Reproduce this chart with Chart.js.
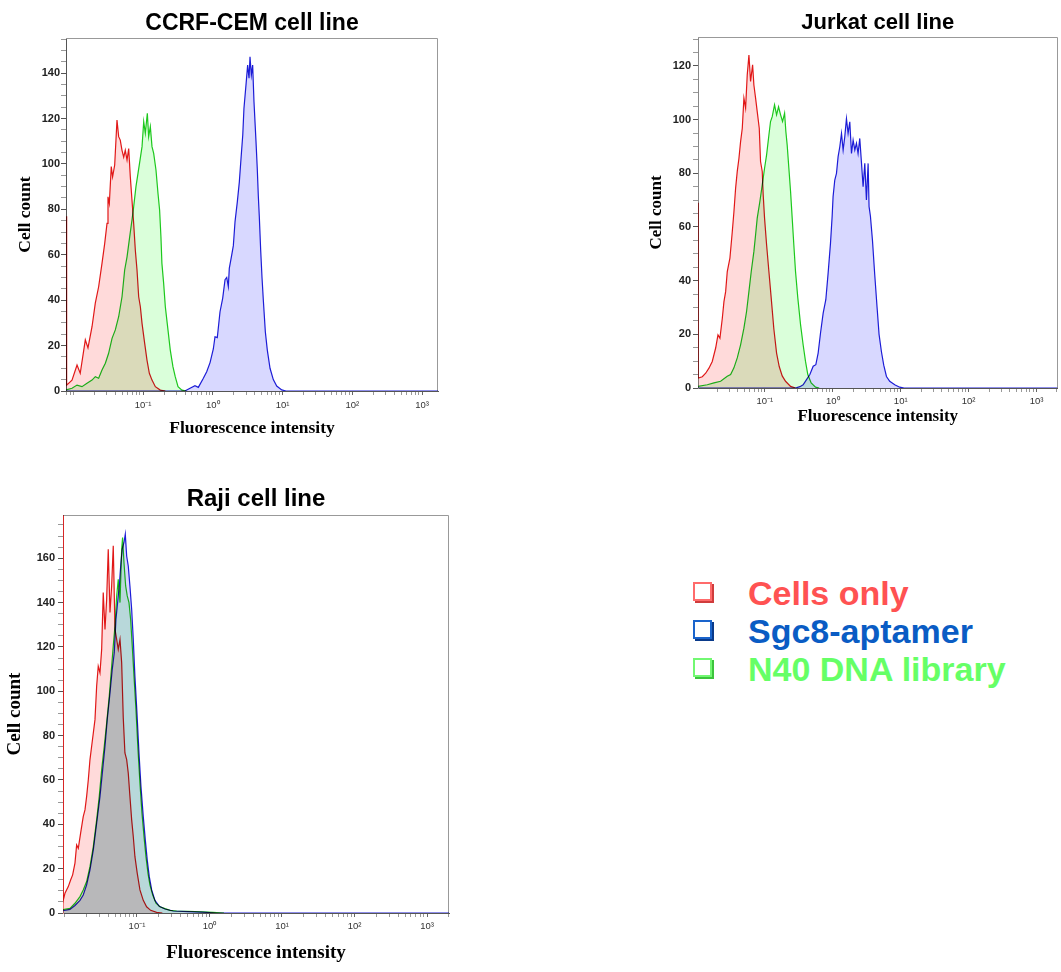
<!DOCTYPE html>
<html><head><meta charset="utf-8">
<script src="https://cdn.jsdelivr.net/npm/chart.js@4.4.1/dist/chart.umd.min.js"></script>
<style>
html,body{margin:0;padding:0;background:#fff;width:1061px;height:972px;overflow:hidden;position:relative}
canvas{position:absolute}
#c1{left:0;top:0}
#c2{left:630px;top:0}
#c3{left:0;top:470px}
.leg{position:absolute;left:748px;font:bold 34px "Liberation Sans",Arial,sans-serif;line-height:34px;white-space:nowrap}
.sq{position:absolute;left:693px;width:15px;height:15px;border:2px solid}
</style></head><body>
<canvas id="c1" width="460" height="450"></canvas>
<canvas id="c2" width="431" height="430"></canvas>
<canvas id="c3" width="460" height="500"></canvas>

<div class="sq" style="top:582px;border-color:#ff6b6b;box-shadow:2px 2px 0 #d03c3c"></div>
<div class="leg" style="top:576px;color:#ff5252">Cells only</div>
<div class="sq" style="top:620px;border-color:#1a64cc;box-shadow:2px 2px 0 #0a3a8a"></div>
<div class="leg" style="top:614px;color:#0a5cc4">Sgc8-aptamer</div>
<div class="sq" style="top:658px;border-color:#72f872;box-shadow:2px 2px 0 #3cc43c"></div>
<div class="leg" style="top:652px;color:#66ff66">N40 DNA library</div>

<script>
// ---------- tick labels ----------
const xTickExps = [-1, 0, 1, 2, 3];
const xTickLabels = ['10\u207B\u00B9', '10\u2070', '10\u00B9', '10\u00B2', '10\u00B3'];
const yLabelStep = 20;
const yMinorStep = 5;
const seriesNames = ['Cells only', 'Sgc8-aptamer', 'N40 DNA library'];

// ---------- CCRF-CEM (x as log10 intensity, y as cell count) ----------
const cemXRange = [-2.104, 3.229];
const cemYMax = 155.4;
const cemCells = [[-2.104,77],[-2.100,3],[-2.09,2.6],[-2.018,4.8],[-1.946,11.4],[-1.90,7.8],[-1.827,22.5],[-1.789,19],[-1.731,28.3],[-1.684,38.7],[-1.636,45.9],[-1.588,56.2],[-1.549,65],[-1.516,73.8],[-1.502,85.5],[-1.483,82.6],[-1.455,98.8],[-1.436,94.3],[-1.406,99.5],[-1.373,119.3],[-1.349,112],[-1.326,110.5],[-1.301,106],[-1.277,103],[-1.254,106],[-1.229,101.7],[-1.205,106.8],[-1.182,94.3],[-1.158,84],[-1.134,73.8],[-1.110,62],[-1.086,53.3],[-1.062,41.5],[-1.038,37.1],[-1.014,29.8],[-0.976,21],[-0.943,13.6],[-0.909,7.8],[-0.871,4.8],[-0.823,1.9],[-0.752,0.4],[-0.68,0]];
const cemLibrary = [[-2.104,0.5],[-2.018,1.2],[-1.946,2.6],[-1.875,1.9],[-1.803,3.4],[-1.731,4.8],[-1.684,6.3],[-1.636,5.6],[-1.588,9.2],[-1.540,12.2],[-1.493,16.6],[-1.444,23.2],[-1.397,26.9],[-1.349,32.7],[-1.301,41.5],[-1.263,53.3],[-1.229,59.1],[-1.191,67.9],[-1.158,75.3],[-1.134,81.1],[-1.101,90],[-1.072,95.8],[-1.043,101.7],[-1.014,107.6],[-0.990,118.6],[-0.967,113.5],[-0.938,122.3],[-0.919,112],[-0.895,116.4],[-0.871,107.6],[-0.847,104.6],[-0.814,97.3],[-0.785,87],[-0.762,79.7],[-0.743,67.9],[-0.729,56.2],[-0.704,47.4],[-0.680,37.1],[-0.642,26.9],[-0.609,18],[-0.571,10.7],[-0.538,6.3],[-0.498,1.9],[-0.442,0.4],[-0.38,0]];
const cemAptamer = [[-2.104,0],[-0.40,0],[-0.326,1.2],[-0.255,2.3],[-0.207,1.6],[-0.135,5.6],[-0.087,8.5],[-0.039,12.5],[0.008,18.5],[0.032,23.9],[0.065,23.5],[0.104,34.9],[0.142,40.8],[0.176,49],[0.2,50],[0.223,46],[0.237,54],[0.272,59.9],[0.295,64],[0.319,74.5],[0.352,83.3],[0.381,92.1],[0.405,102.4],[0.430,112.7],[0.447,124.4],[0.476,134.7],[0.5,143.5],[0.52,137.7],[0.534,147.2],[0.553,139.1],[0.572,143.5],[0.591,127.4],[0.620,109.8],[0.638,98],[0.653,86],[0.667,77],[0.687,62],[0.706,50],[0.725,40],[0.754,26],[0.782,18],[0.821,10],[0.868,5],[0.917,2.2],[0.989,0.5],[1.05,0],[3.229,0]];

// ---------- Jurkat ----------
const jurXRange = [-1.985, 3.309];
const jurYMax = 130.8;
const jurCells = [[-1.985,69],[-1.981,3.7],[-1.922,4.2],[-1.872,5.5],[-1.824,7.4],[-1.775,9.9],[-1.725,14.9],[-1.691,19.8],[-1.662,18.6],[-1.627,26],[-1.603,32.2],[-1.578,35.9],[-1.554,43.4],[-1.515,48.4],[-1.480,58.3],[-1.456,65.7],[-1.431,74.5],[-1.407,80.7],[-1.382,85.6],[-1.358,91.8],[-1.333,96.8],[-1.309,108],[-1.284,104.3],[-1.260,116.7],[-1.235,124.1],[-1.211,114.2],[-1.181,120.4],[-1.162,112.9],[-1.137,108],[-1.113,103],[-1.083,96.8],[-1.064,84.4],[-1.039,80.7],[-1.025,72],[-1.005,63.3],[-0.975,53.4],[-0.941,43.4],[-0.907,33.5],[-0.868,22],[-0.828,13],[-0.789,8],[-0.745,4.5],[-0.696,2.5],[-0.622,0.6],[-0.549,0]];
const jurLibrary = [[-1.985,0.6],[-1.848,1.2],[-1.75,1.9],[-1.652,2.5],[-1.554,4.4],[-1.505,5],[-1.456,7.5],[-1.407,11.2],[-1.358,16.1],[-1.309,22.3],[-1.270,28.5],[-1.235,36],[-1.201,43.4],[-1.162,50.9],[-1.137,57.1],[-1.113,63.3],[-1.074,69.5],[-1.039,75.7],[-1.005,81.9],[-0.975,86.9],[-0.941,94.3],[-0.917,99.3],[-0.892,101.1],[-0.858,105.5],[-0.828,101.8],[-0.799,104.8],[-0.769,101.8],[-0.740,99.3],[-0.710,102.4],[-0.691,95.5],[-0.672,90.6],[-0.647,81.9],[-0.622,73.2],[-0.598,63.3],[-0.574,53.4],[-0.549,43.4],[-0.515,33.5],[-0.475,23.6],[-0.437,16.1],[-0.402,9.9],[-0.368,5],[-0.319,1.9],[-0.254,0.3],[-0.2,0]];
const jurAptamer = [[-1.985,0],[-0.55,0],[-0.485,0.5],[-0.437,1.2],[-0.387,3.1],[-0.338,5],[-0.289,8.1],[-0.25,8.7],[-0.216,13],[-0.181,20.5],[-0.142,27.9],[-0.103,32.9],[-0.069,42.8],[-0.034,54],[-0.010,63.9],[0.004,71.3],[0.029,77.5],[0.054,80],[0.078,86.2],[0.103,89.9],[0.128,94.9],[0.152,88.7],[0.176,93.6],[0.201,100.4],[0.225,94.9],[0.25,99.2],[0.275,87.4],[0.299,92.4],[0.324,88.7],[0.348,91.2],[0.372,87.4],[0.397,93],[0.426,82.5],[0.446,75],[0.471,83.7],[0.495,70.1],[0.520,83.7],[0.534,67.6],[0.554,64],[0.584,55],[0.618,42],[0.652,30],[0.681,20],[0.716,13.5],[0.75,8.5],[0.790,4.3],[0.838,2.5],[0.912,1.2],[0.985,0.3],[1.05,0],[3.309,0]];

// ---------- Raji ----------
const rajiXRange = [-2.02, 3.303];
const rajiYMax = 179.5;
const rajiCells = [[-2.02,185],[-2.017,5.7],[-1.993,8.9],[-1.947,11.9],[-1.915,14.9],[-1.887,17.2],[-1.855,22.5],[-1.832,30.7],[-1.809,29.2],[-1.777,36],[-1.741,43.5],[-1.717,46.5],[-1.694,52.6],[-1.671,60.1],[-1.648,69.2],[-1.625,75.2],[-1.602,81.2],[-1.579,87.2],[-1.556,102.3],[-1.534,111.3],[-1.510,108.3],[-1.487,118.9],[-1.465,144.5],[-1.441,127.9],[-1.418,141.5],[-1.396,164.1],[-1.372,135.5],[-1.349,147.5],[-1.327,165.6],[-1.303,127.9],[-1.280,123.4],[-1.258,118.9],[-1.234,123.4],[-1.211,112.9],[-1.189,88],[-1.166,72.2],[-1.142,69.2],[-1.12,63.1],[-1.097,52.6],[-1.073,42],[-1.051,34.5],[-1.028,25.4],[-0.996,17.9],[-0.959,10.4],[-0.913,5.7],[-0.867,2.8],[-0.811,1.2],[-0.729,0.3],[-0.65,0]];
const rajiLibrary = [[-2.02,1.5],[-1.924,2.1],[-1.855,4.4],[-1.786,7.4],[-1.741,10.4],[-1.694,14.2],[-1.648,20.9],[-1.602,30],[-1.556,42],[-1.520,52.6],[-1.487,64.6],[-1.451,75.2],[-1.418,85.7],[-1.382,97.8],[-1.349,111.3],[-1.327,120.4],[-1.303,129.4],[-1.280,143],[-1.258,150.5],[-1.234,140],[-1.211,164.1],[-1.198,169.3],[-1.179,158],[-1.156,147.5],[-1.134,143],[-1.110,140],[-1.087,132.4],[-1.065,120.4],[-1.041,106.8],[-1.014,91.8],[-0.986,73.7],[-0.959,58.6],[-0.931,45],[-0.903,34.5],[-0.876,25.4],[-0.848,17.9],[-0.821,12.7],[-0.783,8.1],[-0.738,4.4],[-0.683,2.8],[-0.614,2],[-0.545,1.2],[-0.452,0.9],[-0.3,0.8],[-0.1,0.5],[0.05,0.3],[0.2,0]];
const rajiAptamer = [[-2.02,1],[-1.924,1.6],[-1.855,3.4],[-1.786,5.7],[-1.741,8.1],[-1.694,12.7],[-1.648,19.4],[-1.602,28.5],[-1.556,40.5],[-1.510,52.6],[-1.473,64.6],[-1.441,75.2],[-1.410,87.2],[-1.372,99.3],[-1.341,109.8],[-1.313,117.4],[-1.290,132.4],[-1.267,140],[-1.244,147.5],[-1.221,158],[-1.203,164.1],[-1.179,167.1],[-1.161,170.8],[-1.142,161],[-1.12,156.5],[-1.097,147.5],[-1.073,136.9],[-1.051,123.4],[-1.028,106.8],[-1.0,90.3],[-0.972,72.2],[-0.945,57.1],[-0.913,43.5],[-0.885,33],[-0.858,23.9],[-0.830,16.4],[-0.797,10.4],[-0.752,5.7],[-0.692,3],[-0.614,1.8],[-0.50,0.9],[-0.3,0.6],[-0.1,0.4],[0.1,0],[3.303,0]];

// ---------- styling ----------
const lineColors = ['rgb(225,25,25)', 'rgb(30,30,215)', 'rgb(30,200,30)'];
const fillColors = ['rgb(255,218,218)', 'rgb(216,216,255)', 'rgb(218,255,218)'];
const drawOrder = [3, 1, 2];

const blendPlugin = {
  id: 'blend',
  beforeDraw(chart) {
    const c = chart.ctx;
    c.save(); c.fillStyle = '#fff'; c.fillRect(0, 0, chart.width, chart.height); c.restore();
  },
  beforeDatasetsDraw(chart) {
    const c = chart.ctx, a = chart.chartArea;
    const l = Math.round(a.left), t = Math.round(a.top) + 0.5, r = Math.round(a.right) - 0.5, b = Math.round(a.bottom);
    c.save();
    c.strokeStyle = '#999'; c.lineWidth = 1;
    c.beginPath(); c.moveTo(l, t); c.lineTo(r, t); c.lineTo(r, b); c.stroke();
    c.restore();
    c.save();
    c.globalCompositeOperation = 'multiply';
  },
  afterDatasetsDraw(chart) { chart.ctx.restore(); }
};

function toXY(arr) { return arr.map(p => ({x: Math.pow(10, p[0]), y: p[1]})); }

function makeChart(id, o) {
  const series = [o.cells, o.aptamer, o.library];
  const datasets = series.map((s, i) => ({
    label: seriesNames[i],
    data: toXY(s),
    borderColor: lineColors[i],
    backgroundColor: fillColors[i],
    borderWidth: 1.2,
    pointRadius: 0,
    tension: 0,
    fill: 'origin',
    order: drawOrder[i]
  }));
  new Chart(document.getElementById(id), {
    type: 'line',
    data: {datasets},
    plugins: [blendPlugin],
    options: {
      responsive: false,
      animation: false,
      devicePixelRatio: 1,
      layout: {padding: {left: 0, right: o.padRight, top: 0, bottom: 0}},
      plugins: {
        legend: {display: false},
        tooltip: {enabled: false},
        title: {
          display: true, text: o.title, fullSize: false, color: '#000',
          font: {family: 'Liberation Sans', size: o.titleSize, weight: 'bold'},
          padding: {top: o.titlePadTop, bottom: o.titlePadBottom}
        }
      },
      scales: {
        x: {
          type: 'logarithmic',
          min: Math.pow(10, o.xRange[0]),
          max: Math.pow(10, o.xRange[1]),
          afterFit(scale) { scale.height = o.xAxisHeight; },
          afterBuildTicks(scale) {
            const t = [];
            for (let n = -3; n <= 4; n++) for (let k = 1; k <= 9; k++) {
              const v = k * Math.pow(10, n);
              if (v >= scale.min && v <= scale.max) t.push({value: v});
            }
            scale.ticks = t;
          },
          ticks: {
            autoSkip: false, maxRotation: 0, minRotation: 0, padding: o.xTickPad,
            color: '#333', font: {family: 'Liberation Sans', size: 9.5},
            callback(v) {
              const i = xTickExps.findIndex(n => Math.abs(v - Math.pow(10, n)) < 1e-9 * Math.pow(10, n));
              return i >= 0 ? xTickLabels[i] : '';
            }
          },
          grid: {display: true, drawOnChartArea: false, drawTicks: true, tickLength: 4,
                 tickColor: ctx => (ctx.tick && xTickExps.some(n => Math.abs(ctx.tick.value - Math.pow(10, n)) < 1e-9 * Math.pow(10, n))) ? '#666' : '#999'},
          border: {display: true, color: '#555', width: 1},
          title: {display: true, text: 'Fluorescence intensity', color: '#000',
                  font: {family: 'Liberation Serif', size: o.axisTitleSize, weight: 'bold'},
                  padding: {top: 0, bottom: o.xTitlePad}}
        },
        y: {
          type: 'linear', min: 0, max: o.yMax,
          afterFit(scale) { scale.width = o.yAxisWidth; },
          ticks: {
            stepSize: yMinorStep, autoSkip: false, includeBounds: false, padding: o.yTickPad,
            color: '#222', font: {family: 'Liberation Sans', size: 11, weight: 'bold'},
            callback(v) { return v % yLabelStep === 0 ? String(v) : ''; }
          },
          grid: {display: true, drawOnChartArea: false, drawTicks: true, tickLength: 5,
                 tickColor: ctx => (ctx.tick && ctx.tick.value % yLabelStep === 0) ? '#555' : '#999'},
          border: {display: true, color: o.leftBorder, width: 1},
          title: {display: true, text: 'Cell count', color: '#000',
                  font: {family: 'Liberation Serif', size: o.axisTitleSize, weight: 'bold'},
                  padding: {top: o.yTitlePad, bottom: 0}}
        }
      }
    }
  });
}

makeChart('c1', {
  title: 'CCRF-CEM cell line', titleSize: 23, titlePadTop: 9.5, titlePadBottom: 1,
  cells: cemCells, aptamer: cemAptamer, library: cemLibrary,
  xRange: cemXRange, yMax: cemYMax, padRight: 22, yAxisWidth: 66, xAxisHeight: 59,
  xTickPad: 4.5, yTickPad: 1, axisTitleSize: 17.5, xTitlePad: 11.5, yTitlePad: 14.5, leftBorder: '#555'
});
makeChart('c2', {
  title: 'Jurkat cell line', titleSize: 22, titlePadTop: 9.6, titlePadBottom: 1,
  cells: jurCells, aptamer: jurAptamer, library: jurLibrary,
  xRange: jurXRange, yMax: jurYMax, padRight: 3, yAxisWidth: 68, xAxisHeight: 42,
  xTickPad: 4, yTickPad: 2, axisTitleSize: 17, xTitlePad: 3.1, yTitlePad: 16.8, leftBorder: '#888'
});
makeChart('c3', {
  title: 'Raji cell line', titleSize: 24, titlePadTop: 14.6, titlePadBottom: 1.6,
  cells: rajiCells, aptamer: rajiAptamer, library: rajiLibrary,
  xRange: rajiXRange, yMax: rajiYMax, padRight: 11, yAxisWidth: 63, xAxisHeight: 57,
  xTickPad: 3.5, yTickPad: 3, axisTitleSize: 19, xTitlePad: 5.9, yTitlePad: 3.6, leftBorder: '#f09090'
});
</script>
</body></html>
